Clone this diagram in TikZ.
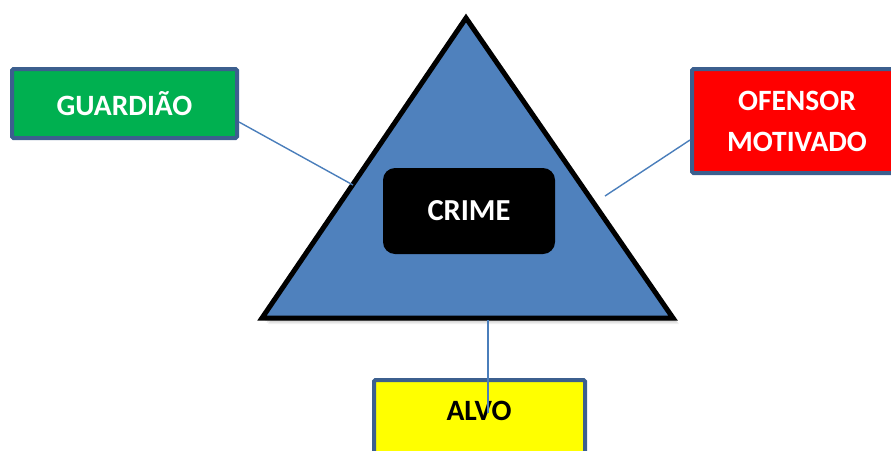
\documentclass[tikz,border=0pt]{standalone}
\usepackage{fontspec}
\setmainfont{Carlito}
\begin{document}
\begin{tikzpicture}[x=1pt,y=-1pt,
  box/.style={draw=boxborder,line width=4pt,rounded corners=1.5pt,inner sep=0pt,font=\bfseries\fontsize{29.5}{41}\selectfont},
  conn/.style={draw=connblue,line width=1.4pt},
  lbl/.style={font=\bfseries\fontsize{29.5}{41}\selectfont,inner sep=0pt}]
\definecolor{triblue}{HTML}{4F81BD}
\definecolor{boxborder}{HTML}{3C5F8E}
\definecolor{connblue}{HTML}{4A7EBB}
\definecolor{grn}{HTML}{00B050}
\definecolor{rd}{HTML}{FF0000}
\definecolor{yl}{HTML}{FFFF00}
\useasboundingbox (0,0) rectangle (891,450);
\clip (0,0) rectangle (891,450);
% triangle
\coordinate (top) at (466,18);
\coordinate (bl) at (262,318);
\coordinate (br) at (673,318);
\foreach \d/\o in {6/0.06,4.5/0.08,3/0.10,1.5/0.12}{
  \fill[black,opacity=\o] ([shift={(\d,\d)}]top) -- ([shift={(\d,\d)}]br) -- ([shift={(\d,\d)}]bl) -- cycle;
}
\draw[fill=triblue,line width=5pt,line join=miter] (top) -- (br) -- (bl) -- cycle;
% crime
\node[fill=black,rounded corners=12pt,minimum width=172pt,minimum height=86pt,text=white,
  font=\bfseries\fontsize{30.5}{36}\selectfont] (crime) at (469,211) {CRIME};
% boxes
\node[box,fill=grn,text=white,minimum width=225pt,minimum height=69pt] (guard) at (124.5,103.5) {GUARDIÃO};
\node[box,fill=rd,text=white,minimum width=210pt,minimum height=104pt,align=center] (ofensor) at (797,121) {OFENSOR\\MOTIVADO};
\node[box,fill=yl,minimum width=211pt,minimum height=90pt] (alvo) at (479.5,425) {};
\node[lbl,text=black] (alvotxt) at (479,411) {ALVO};
% connectors
\coordinate (gend) at (353,185);
\coordinate (oend) at (605,196);
\coordinate (atop) at (488,320);
\coordinate (aend) at (488,413);
\draw[conn] (guard.east |- 0,122) -- (gend);
\draw[conn] (ofensor.west |- 0,140) -- (oend);
\draw[conn] (atop) -- (aend);
\end{tikzpicture}
\end{document}
